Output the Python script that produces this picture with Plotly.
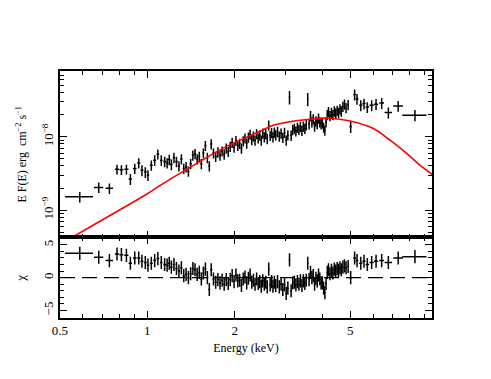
import plotly.graph_objects as go
from plotly.subplots import make_subplots

# spectrum bins: centre energy (keV) and half-width
energy = [
    0.585, 0.68, 0.74, 0.786, 0.814, 0.847, 0.874, 0.905, 0.934, 0.958,
    0.984, 1.005, 1.032, 1.06, 1.087, 1.117, 1.147,
    1.17, 1.19, 1.21, 1.235, 1.26, 1.285, 1.31, 1.335, 1.36, 1.385,
    1.41, 1.435, 1.46, 1.485, 1.51, 1.535, 1.56, 1.585, 1.61, 1.635,
    1.66, 1.69, 1.72, 1.75, 1.78, 1.81, 1.84, 1.87, 1.90, 1.93,
    1.96, 1.99, 2.02, 2.05, 2.08, 2.11, 2.14, 2.17, 2.20, 2.23,
    2.26, 2.29, 2.32, 2.35, 2.38, 2.41, 2.44, 2.47, 2.50, 2.53,
    2.56, 2.59, 2.62, 2.65, 2.68, 2.71, 2.74, 2.77, 2.81, 2.85,
    2.89, 2.93, 2.97, 3.01, 3.05, 3.09, 3.13, 3.17, 3.21, 3.25,
    3.29, 3.33, 3.37, 3.41, 3.45, 3.49, 3.53, 3.57, 3.61, 3.65,
    3.69, 3.73, 3.77, 3.81, 3.85, 3.89, 3.93, 3.97, 4.01, 4.05,
    4.09, 4.13, 4.17, 4.21, 4.26, 4.31, 4.36, 4.41, 4.46, 4.51,
    4.56, 4.61, 4.66, 4.72, 4.78, 4.84, 4.92,
    5.02, 5.18, 5.28, 5.44, 5.58, 5.73, 5.93, 6.14, 6.42, 6.77, 7.32, 8.36,
]
energy_hw = [
    0.065, 0.025, 0.022, 0.013, 0.013, 0.014, 0.012, 0.013, 0.012, 0.011,
    0.011, 0.010, 0.012, 0.012, 0.012, 0.012, 0.012,
    0.012, 0.012, 0.012, 0.012, 0.012, 0.012, 0.012, 0.012, 0.012, 0.012,
    0.012, 0.012, 0.012, 0.012, 0.012, 0.012, 0.012, 0.012, 0.012, 0.012,
    0.014, 0.014, 0.014, 0.014, 0.014, 0.014, 0.014, 0.014, 0.014, 0.014,
    0.014, 0.014, 0.014, 0.014, 0.014, 0.014, 0.014, 0.014, 0.014, 0.014,
    0.015, 0.015, 0.015, 0.015, 0.015, 0.015, 0.015, 0.015, 0.015, 0.015,
    0.015, 0.015, 0.015, 0.015, 0.015, 0.015, 0.015, 0.015, 0.015, 0.015,
    0.02, 0.02, 0.02, 0.02, 0.02, 0.02, 0.02, 0.02, 0.02, 0.02,
    0.02, 0.02, 0.02, 0.02, 0.02, 0.02, 0.02, 0.02, 0.02, 0.02,
    0.02, 0.02, 0.02, 0.02, 0.02, 0.02, 0.02, 0.02, 0.02, 0.02,
    0.024, 0.024, 0.024, 0.024, 0.024, 0.024, 0.024, 0.024, 0.024, 0.024,
    0.024, 0.024, 0.024, 0.024, 0.024, 0.024, 0.024,
    0.05, 0.06, 0.06, 0.07, 0.07, 0.08, 0.1, 0.1, 0.12, 0.2, 0.28, 0.8,
]
# E F(E) in units of 1e-9 erg cm^-2 s^-1
flux = [
    1.52, 2.04, 1.98, 3.6, 3.55, 3.6, 2.65, 3.7, 4.4, 3.5,
    3.3, 3.0, 4.1, 4.8, 5.8, 4.8, 4.6,
    4.4, 4.9, 4.2, 5.2, 4.6, 4.0, 5.0, 3.7, 3.9, 3.4,
    4.3, 5.6, 5.9, 5.0, 5.4, 4.3, 6.0, 7.6, 5.2, 4.0,
    8.0, 6.0, 5.4, 6.2, 5.6, 6.4, 5.8, 7.0, 6.3, 7.4,
    8.4, 7.2, 8.9, 7.6, 8.1, 7.0, 8.8, 9.6, 8.2, 9.9,
    10.8, 9.2, 10.2, 9.0, 11.0, 9.6, 10.6, 9.0, 11.2, 10.0,
    11.0, 9.4, 14.4, 10.4, 11.4, 10.0, 11.6, 10.6, 11.8, 10.2,
    11.2, 9.8, 11.5, 9.0, 10.6, 35.0, 10.5, 12.5, 13.0, 12.0,
    13.4, 12.6, 13.8, 12.2, 14.0, 13.0, 14.6, 33.0, 15.0, 19.5,
    16.0, 17.5, 14.0, 16.5, 15.2, 18.0, 16.0, 15.0, 15.5, 13.5,
    12.3, 16.0, 20.0, 22.0, 19.5, 21.5, 20.0, 22.5, 21.0, 23.0,
    21.5, 24.0, 22.5, 26.0, 28.0, 25.0, 27.5,
    13.8, 38.0, 33.0, 27.0, 28.5, 25.5, 27.0, 28.0, 29.0, 21.5, 26.5, 19.8,
]
flux_err = [
    0.25, 0.33, 0.32, 0.55, 0.55, 0.55, 0.45, 0.6, 0.7, 0.6,
    0.55, 0.5, 0.65, 0.8, 0.9, 0.8, 0.75,
    0.7, 0.8, 0.7, 0.85, 0.75, 0.65, 0.8, 0.6, 0.65, 0.55,
    0.7, 0.9, 0.95, 0.8, 0.85, 0.7, 0.95, 1.2, 0.85, 0.65,
    1.3, 0.95, 0.85, 1.0, 0.9, 1.0, 0.95, 1.1, 1.0, 1.2,
    1.35, 1.15, 1.4, 1.2, 1.3, 1.1, 1.4, 1.5, 1.3, 1.6,
    1.7, 1.5, 1.6, 1.45, 1.75, 1.5, 1.7, 1.45, 1.8, 1.6,
    1.75, 1.5, 2.3, 1.65, 1.8, 1.6, 1.85, 1.7, 1.9, 1.65,
    1.8, 1.55, 1.85, 1.45, 1.7, 7.3, 1.7, 2.0, 2.1, 1.9,
    2.15, 2.0, 2.2, 1.95, 2.25, 2.1, 2.35, 6.8, 2.4, 3.1,
    2.55, 2.8, 2.25, 2.65, 2.45, 2.9, 2.55, 2.4, 2.5, 2.15,
    1.95, 2.55, 3.2, 3.5, 3.1, 3.45, 3.2, 3.6, 3.35, 3.7,
    3.45, 3.85, 3.6, 4.15, 4.5, 4.0, 4.4,
    2.5, 6.5, 5.6, 4.6, 4.8, 4.3, 4.6, 4.8, 4.9, 3.7, 4.5, 3.4,
]
chi = [
    3.7, 3.1, 2.6, 3.6, 3.5, 3.4, 2.2, 3.0, 3.0, 2.5,
    2.3, 1.9, 2.2, 2.6, 2.9, 2.3, 2.0,
    1.9, 2.2, 1.6, 2.0, 1.4, 1.0, 1.5, 0.3, 0.5, 0.0,
    0.6, 1.4, 1.2, 0.5, 0.8, -0.2, 0.7, 1.3, 0.0, -1.8,
    1.2, -0.2, -0.7, -0.3, -0.8, -0.4, -1.0, -0.3, -0.9, -0.3,
    0.3, -0.6, 0.4, -0.5, -0.4, -1.2, -0.2, 0.1, -0.8, -0.1,
    0.4, -0.7, -0.4, -1.0, -0.2, -0.9, -0.6, -1.3, -0.5, -1.0,
    -0.7, -1.4, 1.3, -1.1, -0.6, -1.3, -0.7, -1.2, -0.6, -1.4,
    -1.0, -1.8, -1.1, -2.4, -1.6, 2.7, -2.0, -0.8, -0.7, -1.1,
    -0.6, -1.0, -0.5, -1.2, -0.5, -0.9, -0.4, 2.2, -0.3, 0.8,
    0.0, 0.3, -1.0, -0.1, -0.5, 0.4, -0.2, -0.8, -0.8, -1.6,
    -2.3, -0.9, 0.8, 1.2, 0.6, 1.1, 0.7, 1.3, 1.0, 1.4,
    1.1, 1.5, 1.2, 1.6, 1.8, 1.5, 1.7,
    0.0, 3.0, 2.6, 2.2, 2.5, 2.0, 2.3, 2.5, 2.6, 2.3, 3.0, 3.2,
]

# model curve (same flux units)
model_energy = [0.504, 0.691, 1.0, 1.111, 1.446, 1.883, 2.45, 2.72, 3.55,
                4.26, 5.0, 6.01, 6.86, 7.83, 8.69, 9.58]
model_flux = [0.345, 0.713, 1.67, 2.19, 4.11, 7.47, 11.96, 14.45, 17.3,
              18.0, 16.5, 13.0, 9.0, 5.94, 4.11, 3.07]

assert len(energy) == len(energy_hw) == len(flux) == len(flux_err) == len(chi)

scale = 1e-9
FONT = "Liberation Serif"

fig = make_subplots(rows=2, cols=1, shared_xaxes=True, vertical_spacing=0,
                    row_heights=[0.674, 0.326])

bar = dict(type="data", thickness=1.5, width=0, color="black")

fig.add_trace(go.Scatter(
    x=energy, y=[f * scale for f in flux], mode="markers",
    marker=dict(size=1, color="black"),
    error_x=dict(array=energy_hw, **bar),
    error_y=dict(array=[e * scale for e in flux_err], **bar),
    showlegend=False), row=1, col=1)

fig.add_trace(go.Scatter(
    x=model_energy, y=[f * scale for f in model_flux], mode="lines",
    line=dict(color="#ff0000", width=1.6, shape="spline"),
    showlegend=False), row=1, col=1)

fig.add_trace(go.Scatter(
    x=energy, y=chi, mode="markers",
    marker=dict(size=1, color="black"),
    error_x=dict(array=energy_hw, **bar),
    error_y=dict(type="constant", value=1, thickness=1.5, width=0, color="black"),
    showlegend=False), row=2, col=1)

fig.add_shape(type="line", xref="x2 domain", yref="y2", x0=0, x1=1, y0=0, y1=0,
              line=dict(color="black", width=1.4, dash="15px,7px"))

axis = dict(showline=True, linecolor="black", linewidth=1.5, mirror="ticks",
            ticks="inside", ticklen=7, tickwidth=1.2, tickcolor="black",
            showgrid=False, zeroline=False)
minor_log = dict(dtick="D1", ticks="inside", ticklen=4, tickwidth=1.2,
                 tickcolor="black", showgrid=False)

fig.update_xaxes(type="log", range=[-0.301, 0.981], tickmode="array",
                 tickvals=[0.5, 1, 2, 5], ticktext=["0.5", "1", "2", "5"],
                 minor=minor_log, **axis)
fig.update_xaxes(showticklabels=False, row=1, col=1)
fig.update_xaxes(title=dict(text="Energy (keV)", standoff=6, font=dict(size=12)),
                 row=2, col=1)

fig.update_yaxes(type="log", range=[-9.375, -7.1], tickmode="array",
                 tickvals=[1e-9, 1e-8],
                 ticktext=["10<sup>\u22129</sup>", "10<sup>\u22128</sup>"],
                 tickangle=-90, minor=minor_log,
                 title=dict(text="E F(E) erg  cm<sup>\u22122</sup> s<sup>\u22121</sup>",
                            font=dict(size=12), standoff=10),
                 row=1, col=1, **axis)
fig.update_yaxes(range=[-6.15, 6.12], tickmode="array", tickvals=[-5, 0, 5],
                 ticktext=["\u22125", "0", "5"], tickangle=-90,
                 minor=dict(dtick=1, tick0=0, ticks="inside", ticklen=4,
                            tickwidth=1.2, tickcolor="black", showgrid=False),
                 title=dict(text="\u03c7", standoff=12, font=dict(size=13)),
                 row=2, col=1, **axis)

fig.update_layout(
    width=475, height=363,
    margin=dict(l=50, r=51, t=63, b=53),
    paper_bgcolor="white", plot_bgcolor="white",
    font=dict(family=FONT, size=13, color="black"),
)

fig.write_html("out.html")
